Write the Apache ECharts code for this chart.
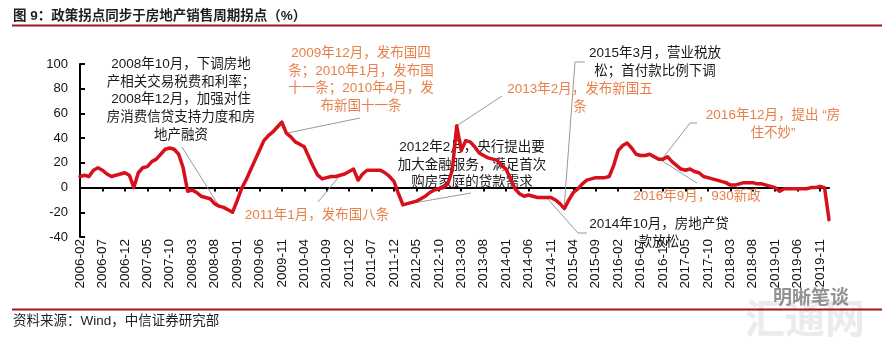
<!DOCTYPE html>
<html><head><meta charset="utf-8">
<script src="https://cdn.jsdelivr.net/npm/echarts@6/dist/echarts.min.js"></script>
<style>html,body{margin:0;padding:0;background:#fff}#c{width:882px;height:340px}</style>
</head><body><div id="c"></div>
<script>
// monthly categories 2006-02 .. 2020-01
const firstYear = 2006, firstMonth = 2, monthCount = 168;
const categories = [];
for (let i = 0; i < monthCount; i++) {
  const m0 = firstMonth - 1 + i;
  categories.push((firstYear + Math.floor(m0 / 12)) + '-' + String(m0 % 12 + 1).padStart(2, '0'));
}
// values (%), one row per 12 months starting 2006-02
const salesYoY = [
  9, 10, 9, 14, 16, 14, 11, 9, 10, 11, 12, 10,
  0, 12, 16, 17, 21, 23, 27, 31, 32, 31, 27, 16,
  -3, -2, -4, -7, -8, -9, -13, -15, -16, -18, -20, -11,
  -1, 6, 14, 22, 30, 38, 42, 45, 49, 53, 44, 41,
  37, 35, 33, 25, 17, 10, 7, 8, 9, 9, 10, 11,
  13, 15, 6, 11, 14, 14, 14, 14, 12, 9, 5, -5,
  -14, -13, -12, -11, -9, -7, -4, -2, -1, 0, 3, 14,
  50, 30, 38, 37, 33, 28, 26, 24, 23, 22, 18, 15,
  7, -1, -5, -7, -6, -7, -8, -8, -8, -8, -10, -13,
  -17, -10, -4, -1, 3, 6, 7, 8, 8, 8, 9, 18,
  30, 34, 36, 32, 27, 26, 26, 27, 25, 23, 23, 25,
  21, 18, 15, 14, 15, 13, 12, 9, 8, 7, 6, 5,
  4, 2, 2, 3, 4, 4, 4, 3, 3, 2, 1, 0,
  -3, -1, -1, -1, -1, -1, -1, 0, 0, 1, 0, -26
];
const yMin = -40, yMax = 100, yStep = 20;

const titleText = '图 9：政策拐点同步于房地产销售周期拐点（%）';
const sourceText = '资料来源：Wind，中信证券研究部';

const BLACK = '#1a1a1a', ORANGE = '#E8804B';
const annotations = [
  {lines: ['2008年10月，下调房地', '产相关交易税费和利率；', '2008年12月，加强对住', '房消费信贷支持力度和房', '地产融资'], color: BLACK, cx: 181, cy0: 64, anchor: [31, -15], leader: [[182, 147]]},
  {lines: ['2009年12月，发布国四', '条；2010年1月，发布国', '十一条；2010年4月，发', '布新国十一条'], color: ORANGE, cx: 361, cy0: 53, anchor: [46, 44], leader: [[360, 118]]},
  {lines: ['2011年1月，发布国八条'], color: ORANGE, cx: 317, cy0: 215, anchor: [58, 10], leader: [[318, 202]]},
  {lines: ['2012年2月，央行提出要', '加大金融服务，满足首次', '购房家庭的贷款需求'], color: BLACK, cx: 472, cy0: 147, anchor: [72, -14], leader: [[471, 193]]},
  {lines: ['2013年2月，发布新国五', '条'], color: ORANGE, cx: 580, cy0: 89, anchor: [84, 50], leader: [[502, 96]]},
  {lines: ['2015年3月，营业税放', '松；首付款比例下调'], color: BLACK, cx: 655, cy0: 53, anchor: [108, -14], leader: [[585, 62], [575, 62]]},
  {lines: ['2014年10月，房地产贷', '款放松'], color: BLACK, cx: 659, cy0: 224, anchor: [104, -8], leader: [[587, 233], [578, 233]]},
  {lines: ['2016年12月，提出 “房', '住不妙”'], color: ORANGE, cx: 773, cy0: 115, anchor: [130, 24], leader: [[697, 123], [690, 123]]},
  {lines: ['2016年9月，930新政'], color: ORANGE, cx: 697, cy0: 196, anchor: [127, 28], leader: [[697, 183]]}
];

const FONT = '"Liberation Sans", "Noto Sans CJK SC", sans-serif';
const chart = echarts.init(document.getElementById('c'), null, {renderer: 'canvas'});
chart.setOption({
  animation: false,
  backgroundColor: '#fff',
  grid: {left: 80, right: 53, top: 64, bottom: 103, containLabel: false},
  xAxis: [{
    type: 'category', data: categories, boundaryGap: false, position: 'bottom',
    axisLine: {show: false, onZero: false}, axisTick: {show: false},
    axisLabel: {interval: 4, rotate: 90, margin: 2, color: '#111', fontSize: 13.5, fontFamily: FONT},
    splitLine: {show: false}
  }, {
    type: 'category', data: categories, boundaryGap: false, position: 'bottom',
    axisLine: {show: true, onZero: true, lineStyle: {color: '#000', width: 2}},
    axisTick: {show: true, interval: 4, length: 4, lineStyle: {color: '#000', width: 2}},
    axisLabel: {show: false}, splitLine: {show: false}
  }],
  yAxis: {
    type: 'value', min: yMin, max: yMax, interval: yStep,
    axisLine: {show: true, lineStyle: {color: '#000', width: 2}},
    axisTick: {show: true, inside: true, length: 5, lineStyle: {color: '#000', width: 2}},
    axisLabel: {color: '#111', fontSize: 13, fontFamily: FONT, margin: 12},
    splitLine: {show: false}
  },
  series: [{
    type: 'line', data: salesYoY, xAxisIndex: 0, yAxisIndex: 0,
    showSymbol: false, smooth: false, z: 5,
    lineStyle: {color: '#D7101C', width: 3.5, join: 'round', cap: 'round'}
  }]
});

const g = [];
g.push({type: 'text', z: 10, style: {x: 13, y: 16.5, text: titleText, fill: '#1f1f1f', font: 'bold 13.5px ' + FONT, verticalAlign: 'middle'}});
g.push({type: 'line', z: 10, shape: {x1: 12, y1: 25.5, x2: 882, y2: 25.5}, style: {stroke: '#A5141C', lineWidth: 2}});
g.push({type: 'line', z: 10, shape: {x1: 12, y1: 309.5, x2: 882, y2: 309.5}, style: {stroke: '#A5141C', lineWidth: 2}});
g.push({type: 'text', z: 10, style: {x: 13, y: 321, text: sourceText, fill: '#1f1f1f', font: '13.5px ' + FONT, verticalAlign: 'middle'}});
// watermark
g.push({type: 'text', z: 1, style: {x: 805, y: 318, text: '汇通网', fill: 'rgba(190,190,190,0.3)', font: 'bold 40px "Noto Sans CJK SC"', align: 'center', verticalAlign: 'middle'}});
g.push({type: 'text', z: 11, style: {x: 811, y: 297, text: '明晰笔谈', fill: 'rgba(110,110,110,0.75)', font: 'bold 19px "Noto Sans CJK SC"', align: 'center', verticalAlign: 'middle'}});

annotations.forEach(a => {
  const end = chart.convertToPixel({xAxisIndex: 0, yAxisIndex: 0}, a.anchor);
  const pts = a.leader.concat([end]);
  g.push({type: 'polyline', z: 1, shape: {points: pts}, style: {stroke: '#9a9a9a', lineWidth: 1, fill: null}});
  a.lines.forEach((t, i) => {
    g.push({type: 'text', z: 1, style: {x: a.cx, y: a.cy0 + 17.8 * i, text: t, fill: a.color, font: '13.5px ' + FONT, align: 'center', verticalAlign: 'middle'}});
  });
});
chart.setOption({graphic: g});
</script></body></html>
